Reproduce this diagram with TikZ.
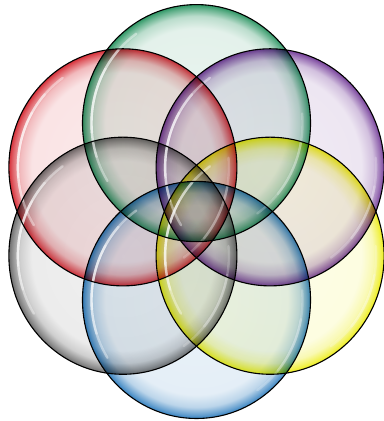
\documentclass[tikz,border=0pt]{standalone}
\usepackage{tikz}
\usetikzlibrary{calc}

% soap bubble: faint tint inside, darker rim at the edge (path edge = 25bp)
\pgfdeclareradialshading[bubblecol]{bubble}{\pgfpoint{0bp}{0bp}}{%
  color(0bp)=(bubblecol!9);
  color(20bp)=(bubblecol!12);
  color(22.6bp)=(bubblecol!30);
  color(24.2bp)=(bubblecol!68);
  color(25bp)=(bubblecol!90);
  color(50bp)=(bubblecol!90)}

\definecolor{bgreen}{RGB}{25,140,85}
\definecolor{bred}{RGB}{210,25,35}
\definecolor{bpurple}{RGB}{105,45,145}
\definecolor{bgray}{RGB}{95,95,95}
\definecolor{byellow}{RGB}{235,235,0}
\definecolor{bblue}{RGB}{30,115,185}

\begin{document}
\begin{tikzpicture}[
  x=1pt, y=1.04pt,
  bubble/.style={shading=bubble, blend mode=multiply},
  rim/.style={draw=black, line width=1.1pt},
  gloss/.style={draw=white, line width=2.4pt, line cap=round, draw opacity=0.4}
]
\useasboundingbox (0,0) rectangle (383,404.8);
\coordinate (o) at (196.5,201.4);

% centres on a hexagon
\foreach \n/\a in {green/90, red/150, gray/210, blue/270, yellow/330, purple/30}
  \coordinate (\n) at ($(o)+(\a:85)$);

% bubbles
\foreach \n in {green, red, purple, gray, yellow, blue} {
  \colorlet{bubblecol}{b\n}
  \path[bubble] (\n) circle (114);
}

% highlights
\foreach \n in {green, red, purple, gray, yellow, blue} {
  \draw[gloss] ($(\n)+(125:105)$) arc[start angle=125, end angle=212, radius=105];
  \draw[gloss] ($(\n)+(138:105)$) arc[start angle=138, end angle=198, radius=105];
  \draw[gloss] ($(\n)+(150:105)$) arc[start angle=150, end angle=185, radius=105];
  \draw[gloss, draw opacity=0.22] ($(\n)+(-55:106)$) arc[start angle=-55, end angle=5, radius=106];
  \draw[gloss, draw opacity=0.22] ($(\n)+(-40:106)$) arc[start angle=-40, end angle=-10, radius=106];
}

% outlines
\foreach \n in {green, red, purple, gray, yellow, blue}
  \draw[rim] (\n) circle (114);
\end{tikzpicture}
\end{document}
